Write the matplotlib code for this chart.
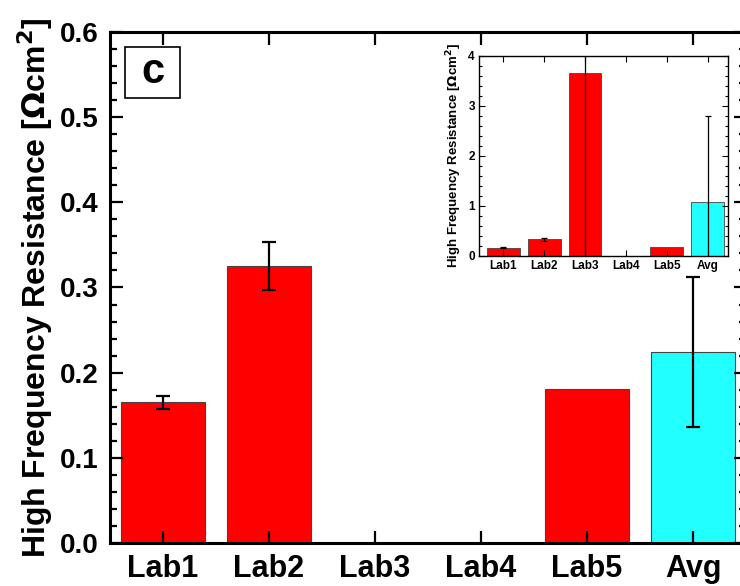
import numpy as np
import matplotlib
matplotlib.use("Agg")
import matplotlib.pyplot as plt
from matplotlib.ticker import MultipleLocator, FormatStrFormatter
from matplotlib.patches import Rectangle

plt.rcParams['font.family'] = ['Liberation Sans', 'DejaVu Sans']

labs = ['Lab1', 'Lab2', 'Lab3', 'Lab4', 'Lab5', 'Avg']

# main panel (Lab3 left out, Lab4 no data)
hfr_main = [0.165, 0.325, np.nan, np.nan, 0.181, 0.224]
err_main = [0.008, 0.028, np.nan, np.nan, np.nan, 0.088]

# inset: all labs
hfr_inset = [0.16, 0.33, 3.65, np.nan, 0.18, 1.08]
err_inset = [0.01, 0.03, 3.7, np.nan, np.nan, 1.72]

colors = ['#ff0000', '#ff0000', '#ff0000', '#ff0000', '#ff0000', '#22ffff']

ylab = r'High Frequency Resistance [$\mathbf{\Omega}$cm$^\mathbf{2}$]'

fig = plt.figure(figsize=(7.4, 5.86), dpi=100)
ax = fig.add_axes([110/740, 43/586, 636/740, 511/586])

x = np.arange(1, len(labs) + 1)
ax.bar(x, hfr_main, width=0.8, color=colors, edgecolor='#444444', linewidth=0.8)
ax.errorbar(x, hfr_main, yerr=err_main, fmt='none', ecolor='black',
            elinewidth=1.6, capsize=5, capthick=1.6)

ax.set_xlim(0.5, 6.5)
ax.set_ylim(0, 0.6)
ax.set_xticks(x)
ax.set_xticklabels(labs, fontsize=22)
ax.yaxis.set_major_locator(MultipleLocator(0.1))
ax.yaxis.set_minor_locator(MultipleLocator(0.02))
ax.yaxis.set_major_formatter(FormatStrFormatter('%.1f'))
ax.tick_params(which='both', direction='in', top=True, right=True, width=1.6)
ax.tick_params(which='major', length=9, pad=8)
ax.tick_params(axis='y', which='major', labelsize=20)
ax.tick_params(which='minor', length=5)
for lbl in ax.get_xticklabels() + ax.get_yticklabels():
    lbl.set_fontweight('bold')
for s in ax.spines.values():
    s.set_linewidth(2.2)
ax.set_ylabel(ylab, fontsize=23, fontweight='bold', labelpad=4)

# panel letter
ax.add_patch(Rectangle((0.0236, 0.871), 0.0865, 0.1, transform=ax.transAxes,
                       facecolor='white', edgecolor='black', linewidth=1.2, zorder=5))
ax.text(0.067, 0.921, 'c', transform=ax.transAxes, fontsize=30, fontweight='bold',
        ha='center', va='center', zorder=6)

# inset
axi = fig.add_axes([479/740, (586-256)/586, 249/740, 200/586])
axi.bar(x, hfr_inset, width=0.8, color=colors, edgecolor='#444444', linewidth=0.6)
axi.errorbar(x, hfr_inset, yerr=err_inset, fmt='none', ecolor='black',
             elinewidth=0.9, capsize=2.5, capthick=0.9)
axi.set_xlim(0.4, 6.5)
axi.set_ylim(0, 4)
axi.set_xticks(x)
axi.set_xticklabels(labs)
axi.yaxis.set_major_locator(MultipleLocator(1))
axi.yaxis.set_minor_locator(MultipleLocator(0.2))
axi.tick_params(which='both', direction='in', top=True, right=True, width=0.8)
axi.tick_params(which='major', length=4, labelsize=8.5, pad=3)
axi.tick_params(which='minor', length=2)
for lbl in axi.get_xticklabels() + axi.get_yticklabels():
    lbl.set_fontweight('bold')
for s in axi.spines.values():
    s.set_linewidth(1.0)
axi.set_ylabel(ylab, fontsize=9.5, fontweight='bold', labelpad=3)

fig.savefig('out.png', dpi=100)
